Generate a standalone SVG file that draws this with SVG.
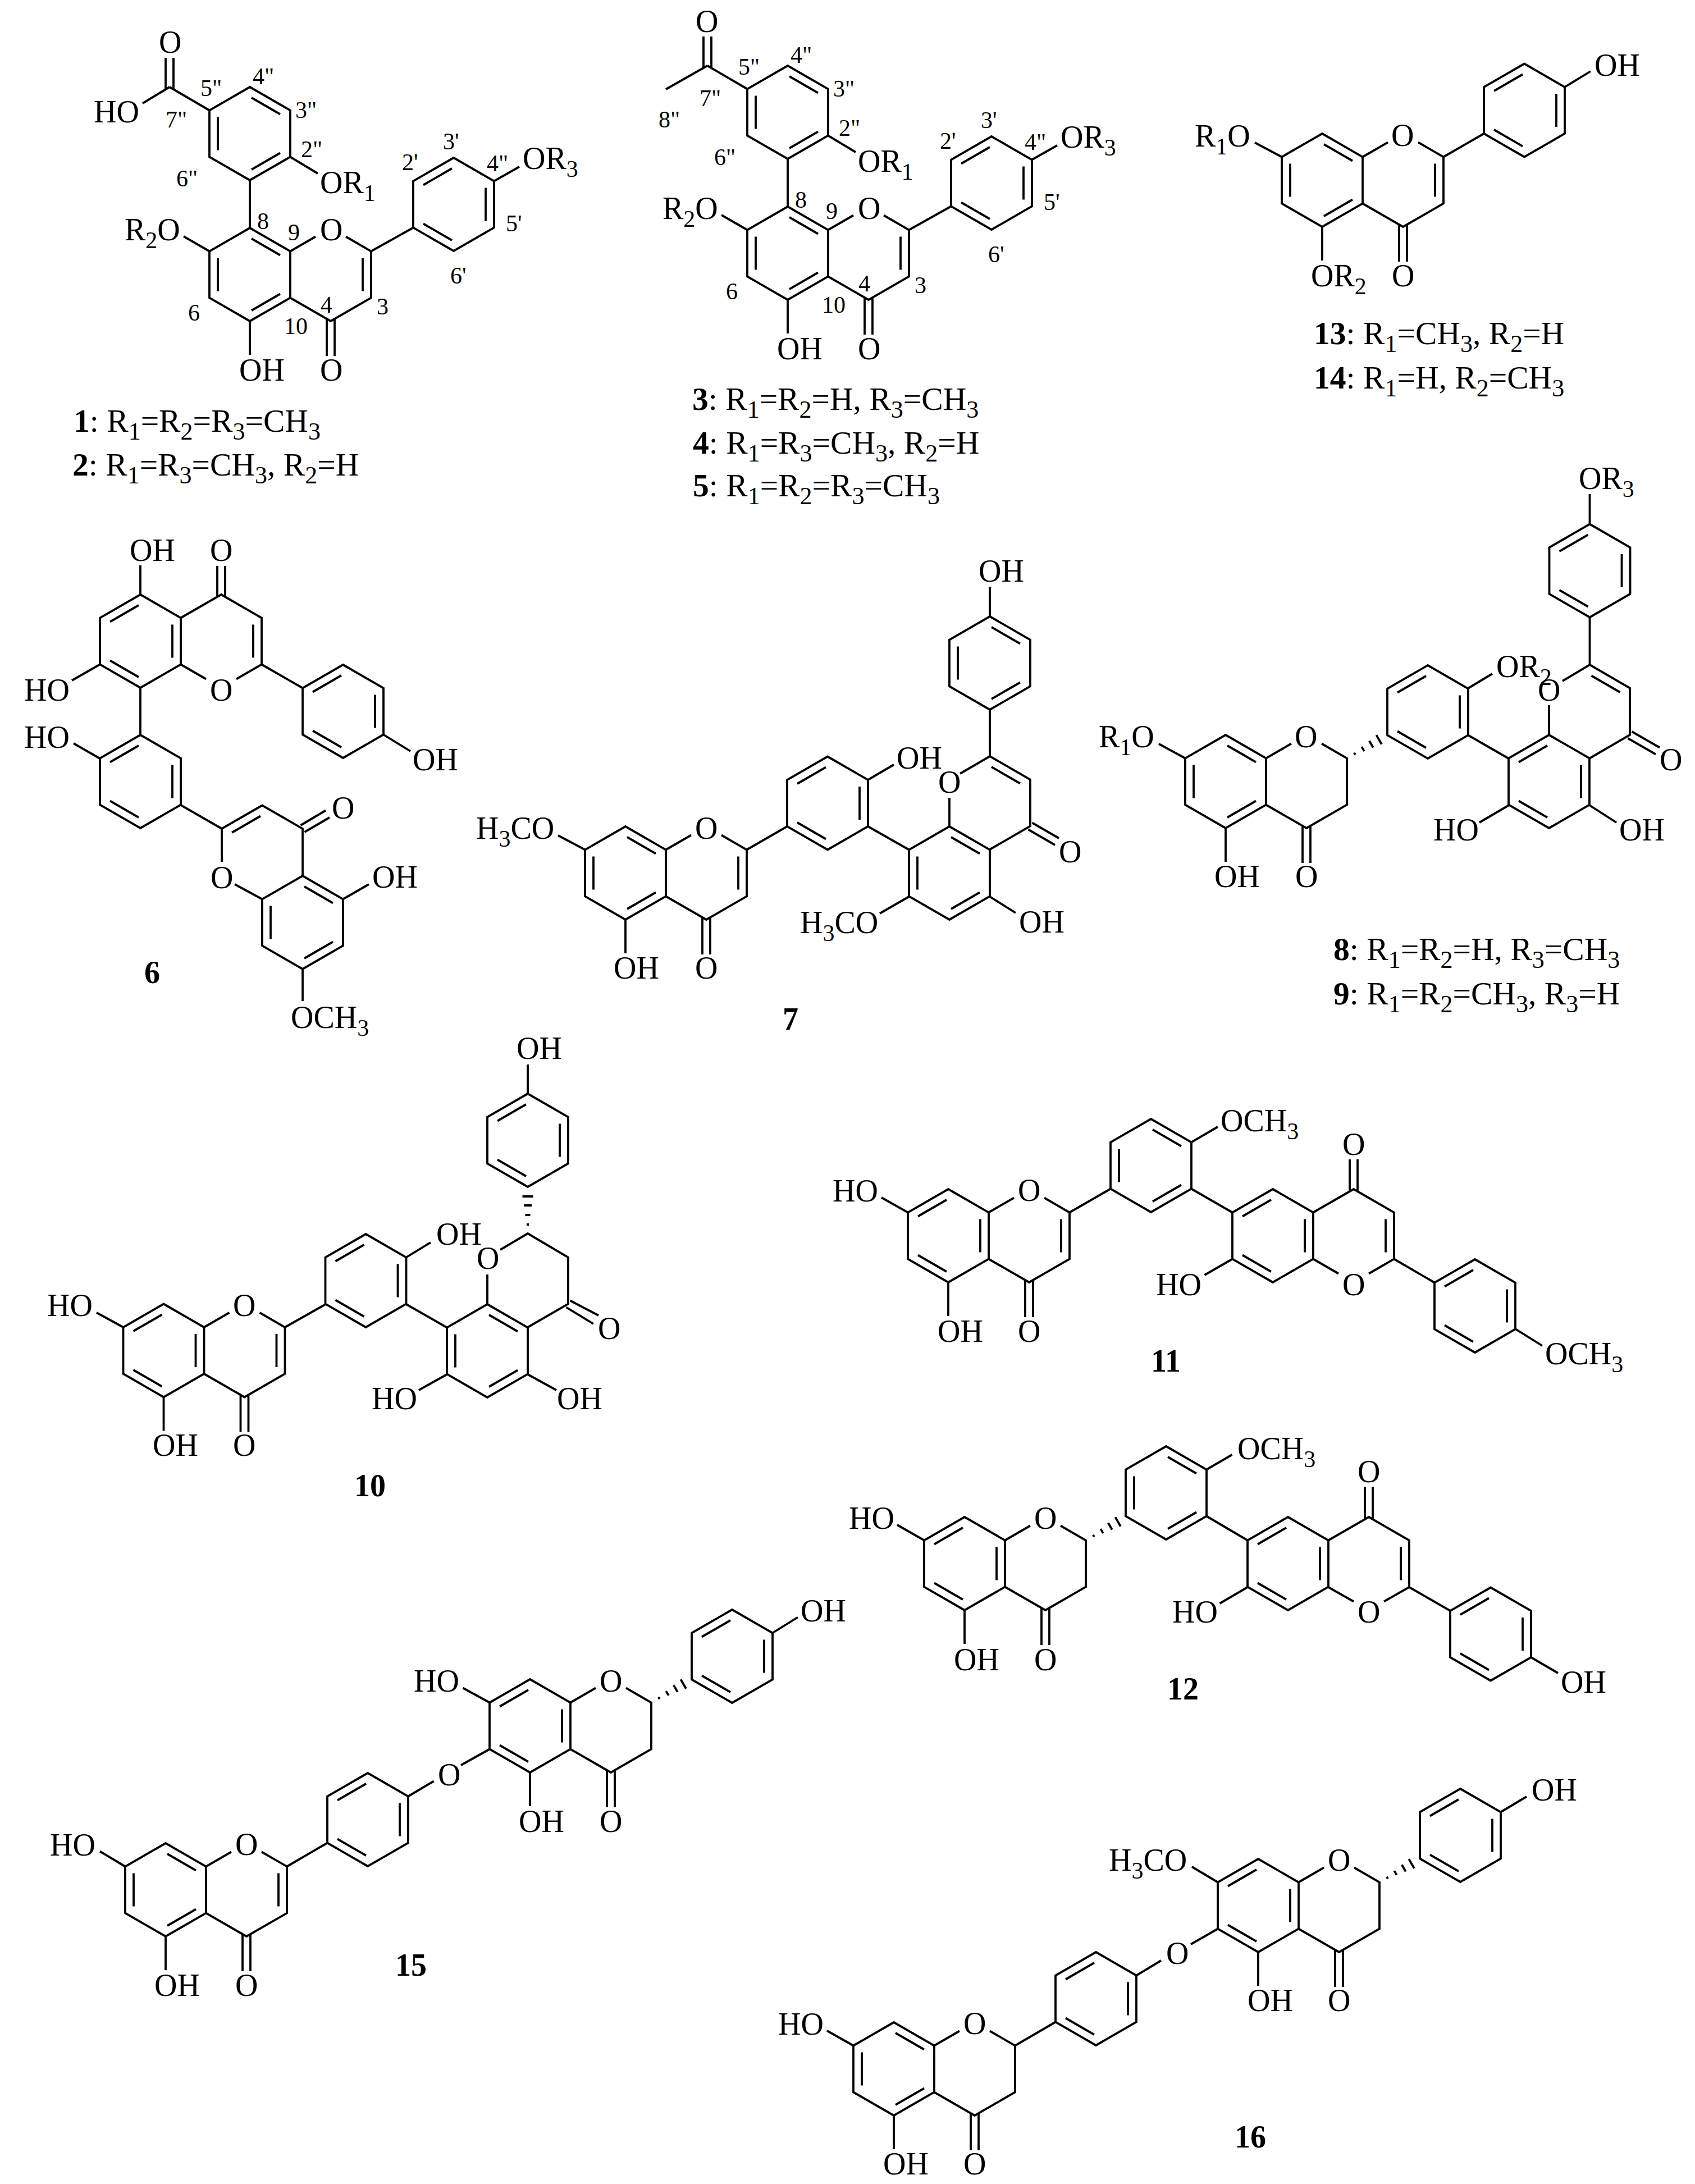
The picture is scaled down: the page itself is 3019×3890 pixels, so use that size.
<svg xmlns="http://www.w3.org/2000/svg" width="3019" height="3890" viewBox="0 0 3019 3890">
<style>
path{fill:none;stroke:#000;stroke-width:3.8;stroke-linejoin:miter;stroke-linecap:butt}
text{font-family:"Liberation Serif","Times New Roman",serif;fill:#000;white-space:pre}
.t{font-size:56px}.s{font-size:42px}.n{font-size:42px}.b{font-weight:bold}
.c{font-size:57.6px}.c .s{font-size:44px}
</style>
<defs>
<path id="kA" d="M0-83L72-41.5V41.5L0 83L-72 41.5V-41.5ZM3-64L54-34.5M3 64L54 34.5M-57-29.5V29.5"/>
<path id="kB" d="M0-83L72-41.5V41.5L0 83L-72 41.5V-41.5ZM-3-64L-54-34.5M57-29.5V29.5M-3 64L-54 34.5"/>
<path id="cO" d="M-72-41.5L-27-67.5M27-67.5L72-41.5V41.5L0 83L-72 41.5M-7 80V145M7 80V145M-144 83V143"/>
<path id="cOd" d="M-72-41.5L-27-67.5M27-67.5L72-41.5V41.5L0 83L-72 41.5M-7 80V145M7 80V145M-144 83V143M57-29.5V29.5"/>
<path id="hash" d="M16-2V2M33-4.5V4.5M50-7V7M66-9.5V9.5"/>
<g id="core13">
<use href="#kA" x="445" y="489"/><use href="#cOd" x="589" y="489"/><use href="#kA" x="445" y="238"/><use href="#kB" x="808" y="364"/>
<path d="M661 447.5L736 405.5M880 322.5L925 297M445 406V321M517 279.5L566 309M373 447.5L327 421M373 196.5L302 155M295 159V103M309 159V103"/>
</g>
</defs>
<rect width="3019" height="3890" fill="#fff"/>

<g id="compound-1">
<use href="#core13"/>
<path d="M302 155L254 184"/>
<text class="t" x="283" y="94">O</text><text class="t" x="167" y="218">HO</text>
<text class="t" x="570" y="344">OR<tspan class="s" dy="14">1</tspan></text>
<text class="t" x="222" y="428">R<tspan class="s" dy="14">2</tspan><tspan dy="-14">O</tspan></text>
<text class="t" x="570" y="428">O</text><text class="t" x="931" y="301">OR<tspan class="s" dy="14">3</tspan></text>
<text class="t" x="426" y="678">OH</text><text class="t" x="570" y="678">O</text>
<text class="n" x="450" y="150">4"</text><text class="n" x="357" y="171">5"</text><text class="n" x="526" y="210">3"</text><text class="n" x="295" y="227">7"</text><text class="n" x="536" y="280">2"</text><text class="n" x="314" y="332">6"</text><text class="n" x="458" y="408">8</text><text class="n" x="513" y="428">9</text><text class="n" x="571" y="557">4</text><text class="n" x="671" y="560">3</text><text class="n" x="335" y="571">6</text><text class="n" x="506" y="595">10</text><text class="n" x="716" y="303">2'</text><text class="n" x="789" y="266">3'</text><text class="n" x="867" y="305">4"</text><text class="n" x="901" y="412">5'</text><text class="n" x="802" y="505">6'</text>
<text class="c" x="131" y="769"><tspan class="b">1</tspan>: R<tspan class="s" dy="14">1</tspan><tspan dy="-14">=R</tspan><tspan class="s" dy="14">2</tspan><tspan dy="-14">=R</tspan><tspan class="s" dy="14">3</tspan><tspan dy="-14">=CH</tspan><tspan class="s" dy="14">3</tspan></text>
<text class="c" x="129" y="847"><tspan class="b">2</tspan>: R<tspan class="s" dy="14">1</tspan><tspan dy="-14">=R</tspan><tspan class="s" dy="14">3</tspan><tspan dy="-14">=CH</tspan><tspan class="s" dy="14">3</tspan><tspan dy="-14">, R</tspan><tspan class="s" dy="14">2</tspan><tspan dy="-14">=H</tspan></text>
</g>

<g id="compound-3">
<use href="#core13" x="958" y="-38"/>
<path d="M1260 117L1186 159"/>
<text class="t" x="1239" y="57">O</text>
<text class="t" x="1528" y="306">OR<tspan class="s" dy="14">1</tspan></text>
<text class="t" x="1180" y="390">R<tspan class="s" dy="14">2</tspan><tspan dy="-14">O</tspan></text>
<text class="t" x="1528" y="390">O</text><text class="t" x="1889" y="263">OR<tspan class="s" dy="14">3</tspan></text>
<text class="t" x="1384" y="640">OH</text><text class="t" x="1528" y="640">O</text>
<text class="n" x="1408" y="112">4"</text><text class="n" x="1315" y="133">5"</text><text class="n" x="1484" y="172">3"</text><text class="n" x="1246" y="189">7"</text><text class="n" x="1173" y="227">8"</text><text class="n" x="1494" y="242">2"</text><text class="n" x="1272" y="294">6"</text><text class="n" x="1416" y="370">8</text><text class="n" x="1471" y="390">9</text><text class="n" x="1529" y="519">4</text><text class="n" x="1629" y="522">3</text><text class="n" x="1293" y="533">6</text><text class="n" x="1464" y="557">10</text><text class="n" x="1674" y="265">2'</text><text class="n" x="1747" y="228">3'</text><text class="n" x="1825" y="267">4"</text><text class="n" x="1859" y="374">5'</text><text class="n" x="1760" y="467">6'</text>
<text class="c" x="1233" y="730"><tspan class="b">3</tspan>: R<tspan class="s" dy="14">1</tspan><tspan dy="-14">=R</tspan><tspan class="s" dy="14">2</tspan><tspan dy="-14">=H, R</tspan><tspan class="s" dy="14">3</tspan><tspan dy="-14">=CH</tspan><tspan class="s" dy="14">3</tspan></text>
<text class="c" x="1234" y="808"><tspan class="b">4</tspan>: R<tspan class="s" dy="14">1</tspan><tspan dy="-14">=R</tspan><tspan class="s" dy="14">3</tspan><tspan dy="-14">=CH</tspan><tspan class="s" dy="14">3</tspan><tspan dy="-14">, R</tspan><tspan class="s" dy="14">2</tspan><tspan dy="-14">=H</tspan></text>
<text class="c" x="1234" y="884"><tspan class="b">5</tspan>: R<tspan class="s" dy="14">1</tspan><tspan dy="-14">=R</tspan><tspan class="s" dy="14">2</tspan><tspan dy="-14">=R</tspan><tspan class="s" dy="14">3</tspan><tspan dy="-14">=CH</tspan><tspan class="s" dy="14">3</tspan></text>
</g>

<g id="compound-13">
<use href="#kA" x="2355" y="321"/><use href="#cOd" x="2499" y="321"/><use href="#kB" x="2715" y="196.5"/>
<path d="M2571 279.5L2643 238M2787 155L2833 127M2283 279.5L2235 254"/>
<text class="t" x="2840" y="135">OH</text>
<text class="t" x="2128" y="261">R<tspan class="s" dy="14">1</tspan><tspan dy="-14">O</tspan></text>
<text class="t" x="2478" y="260">O</text>
<text class="t" x="2335" y="510">OR<tspan class="s" dy="14">2</tspan></text><text class="t" x="2479" y="510">O</text>
<text class="c" x="2340" y="613"><tspan class="b">13</tspan>: R<tspan class="s" dy="14">1</tspan><tspan dy="-14">=CH</tspan><tspan class="s" dy="14">3</tspan><tspan dy="-14">, R</tspan><tspan class="s" dy="14">2</tspan><tspan dy="-14">=H</tspan></text>
<text class="c" x="2340" y="692"><tspan class="b">14</tspan>: R<tspan class="s" dy="14">1</tspan><tspan dy="-14">=H, R</tspan><tspan class="s" dy="14">2</tspan><tspan dy="-14">=CH</tspan><tspan class="s" dy="14">3</tspan></text>
</g>

<g id="compound-6">
<use href="#kB" x="250" y="1142"/><use href="#kB" x="611" y="1267"/><use href="#kB" x="250" y="1392"/><use href="#kA" x="539" y="1643"/>
<path d="M322 1100.5L394 1059L466 1100.5V1183.5L421 1209.5M322 1183.5L367 1209.5M451 1112.5V1171.5M387 1063V1008M401 1063V1008M250 1059V1007M177 1184L128 1212M466 1183.5L539 1225.5M683 1308.5L731 1338M250 1225V1309M177 1350.5L131 1324M322 1434L395 1476L467 1434.5L539 1476V1560M464 1453.5L413 1483M535.5 1470L580 1443.5M542.5 1482L587 1456M395 1476V1535M418 1575L467 1601.5M611 1601.5L657 1575M539 1726V1783"/>
<text class="t" x="231" y="999">OH</text><text class="t" x="374" y="999">O</text><text class="t" x="43" y="1248">HO</text><text class="t" x="374" y="1248">O</text><text class="t" x="735" y="1372">OH</text><text class="t" x="43" y="1332">HO</text><text class="t" x="591" y="1458">O</text><text class="t" x="375" y="1582">O</text><text class="t" x="663" y="1581">OH</text>
<text class="t" x="518" y="1831">OCH<tspan class="s" dy="14">3</tspan></text>
<text class="t b" x="257" y="1751">6</text>
</g>

<g id="compound-7">
<use href="#kA" x="1114" y="1555"/><use href="#cOd" x="1258" y="1555"/><use href="#kB" x="1474" y="1430.5"/><use href="#kA" x="1691" y="1555"/><use href="#kA" x="1763" y="1181"/>
<path d="M1042 1513.5L994 1488M1330 1513.5L1402 1472M1546 1389L1592 1362M1546 1472L1619 1513.5M1691 1421V1472M1710 1378L1763 1347L1835 1388.5V1471.5L1763 1513M1766 1366L1817 1395.5M1838.5 1465.5L1886 1493M1831.5 1477.5L1879 1505M1763 1597L1809 1626M1619 1597L1567 1627M1763 1264V1347M1763 1098V1045"/>
<text class="t" x="848" y="1494">H<tspan class="s" dy="14">3</tspan><tspan dy="-14">CO</tspan></text>
<text class="t" x="1238" y="1494">O</text><text class="t" x="1093" y="1743">OH</text><text class="t" x="1238" y="1743">O</text><text class="t" x="1597" y="1369">OH</text><text class="t" x="1671" y="1412">O</text><text class="t" x="1886" y="1536">O</text><text class="t" x="1815" y="1661">OH</text>
<text class="t" x="1425" y="1662">H<tspan class="s" dy="14">3</tspan><tspan dy="-14">CO</tspan></text>
<text class="t" x="1743" y="1036">OH</text><text class="t b" x="1394" y="1834">7</text>
</g>

<g id="compound-8">
<use href="#kA" x="2183" y="1392"/><use href="#cO" x="2327" y="1392"/><use href="#kB" x="2543" y="1268"/><use href="#kB" x="2759" y="1392"/><use href="#kB" x="2831.5" y="1016.5"/>
<use href="#hash" transform="translate(2399 1350.5) rotate(-30)"/>
<path d="M2111 1350.5L2064 1325M2614 1226.5L2658 1200M2615 1309.5L2687 1351M2759 1256V1309M2783 1213L2831.5 1184L2903 1225.5V1309L2831.5 1350.5M2834.5 1203.5L2885.5 1233M2906.5 1303L2956 1331.5M2899.5 1315L2949 1343.5M2831.5 1434.5L2879 1465M2687 1434.5L2635 1465M2831.5 1100V1184M2831.5 933.5V880"/>
<text class="t" x="1957" y="1331">R<tspan class="s" dy="14">1</tspan><tspan dy="-14">O</tspan></text>
<text class="t" x="2306" y="1331">O</text><text class="t" x="2163" y="1580">OH</text><text class="t" x="2307" y="1580">O</text>
<text class="t" x="2665" y="1206">OR<tspan class="s" dy="14">2</tspan></text>
<text class="t" x="2739" y="1248">O</text><text class="t" x="2956" y="1372">O</text><text class="t" x="2884" y="1497">OH</text><text class="t" x="2553" y="1497">HO</text>
<text class="t" x="2812" y="871">OR<tspan class="s" dy="14">3</tspan></text>
<text class="c" x="2375" y="1710"><tspan class="b">8</tspan>: R<tspan class="s" dy="14">1</tspan><tspan dy="-14">=R</tspan><tspan class="s" dy="14">2</tspan><tspan dy="-14">=H, R</tspan><tspan class="s" dy="14">3</tspan><tspan dy="-14">=CH</tspan><tspan class="s" dy="14">3</tspan></text>
<text class="c" x="2375" y="1789"><tspan class="b">9</tspan>: R<tspan class="s" dy="14">1</tspan><tspan dy="-14">=R</tspan><tspan class="s" dy="14">2</tspan><tspan dy="-14">=CH</tspan><tspan class="s" dy="14">3</tspan><tspan dy="-14">, R</tspan><tspan class="s" dy="14">3</tspan><tspan dy="-14">=H</tspan></text>
</g>

<g id="compound-10">
<use href="#kB" x="291.5" y="2405.5"/><use href="#cOd" x="435.5" y="2405.5"/><use href="#kB" x="651.5" y="2281"/><use href="#kA" x="868" y="2406"/><use href="#kB" x="940" y="2031"/>
<use href="#hash" transform="translate(940 2197) rotate(-90)"/>
<path d="M219.5 2364L172 2338M507.5 2364L580 2323M723.5 2239.5L767 2213M723.5 2323L796 2364.5M868 2270V2323M891 2226L940 2197L1012 2239.5V2322.5L940 2364M1015.5 2316.5L1066 2343M1008.5 2328.5L1057 2358M940 2448L991 2476M796 2448L746 2476M940 1948V1896"/>
<text class="t" x="84" y="2344">HO</text><text class="t" x="415" y="2344">O</text><text class="t" x="272" y="2593">OH</text><text class="t" x="415" y="2593">O</text><text class="t" x="777" y="2217">OH</text><text class="t" x="849" y="2260">O</text><text class="t" x="1065" y="2385">O</text><text class="t" x="992" y="2510">OH</text><text class="t" x="662" y="2510">HO</text><text class="t" x="920" y="1886">OH</text>
<text class="t b" x="631" y="2665">10</text>
</g>

<g id="compound-11">
<use href="#kB" x="1689" y="2201"/><use href="#cOd" x="1833" y="2201"/><use href="#kA" x="2050" y="2076"/><use href="#kB" x="2267" y="2201"/><use href="#kB" x="2627" y="2326"/>
<path d="M1617 2159.5L1570 2133M1905 2159.5L1978 2117.5M2122 2034.5L2169 2007M2122 2117.5L2195 2159.5M2339 2159.5L2411 2118L2483 2159.5V2242.5L2438 2268.5M2339 2242.5L2384 2268.5M2468 2171.5V2230.5M2404 2122V2065M2418 2122V2065M2195 2242.5L2145.5 2271M2483 2242.5L2555 2284.5M2699 2367L2747 2397"/>
<text class="t" x="1483" y="2140">HO</text><text class="t" x="1813" y="2139">O</text><text class="t" x="1670" y="2390">OH</text><text class="t" x="1813" y="2390">O</text>
<text class="t" x="2174" y="2015">OCH<tspan class="s" dy="14">3</tspan></text>
<text class="t" x="2391" y="2057">O</text><text class="t" x="2391" y="2307">O</text><text class="t" x="2059" y="2307">HO</text>
<text class="t" x="2752" y="2430">OCH<tspan class="s" dy="14">3</tspan></text>
<text class="t b" x="2050" y="2443">11</text>
</g>

<g id="compound-12">
<use href="#kB" x="1718" y="2785"/><use href="#cO" x="1862" y="2785"/><use href="#kA" x="2077" y="2659"/><use href="#kB" x="2294" y="2785"/><use href="#kB" x="2655" y="2910.5"/>
<use href="#hash" transform="translate(1934 2743.5) rotate(-30)"/>
<path d="M1646 2743.5L1598 2716M2149 2617.5L2194.5 2591M2149 2700.5L2222 2743.5M2366 2743.5L2438 2702L2510 2743.5V2827L2465 2852.5M2366 2827L2411 2852.5M2495 2755.5V2814.5M2431 2706V2648M2445 2706V2648M2222 2827L2172.5 2856M2510 2827L2583 2869M2727 2952L2775 2980"/>
<text class="t" x="1512" y="2723">HO</text><text class="t" x="1842" y="2723">O</text><text class="t" x="1699" y="2975">OH</text><text class="t" x="1842" y="2975">O</text>
<text class="t" x="2204" y="2599">OCH<tspan class="s" dy="14">3</tspan></text>
<text class="t" x="2418" y="2640">O</text><text class="t" x="2418" y="2890">O</text><text class="t" x="2088" y="2890">HO</text><text class="t" x="2780" y="3015">OH</text>
<text class="t b" x="2079" y="3027">12</text>
</g>

<g id="compound-15">
<use href="#kA" x="295" y="3366"/><use href="#cOd" x="439" y="3366"/><use href="#kB" x="655" y="3241"/><use href="#kB" x="944" y="3074"/><use href="#cO" x="1088" y="3074"/><use href="#kB" x="1304" y="2950"/>
<use href="#hash" transform="translate(1160 3032.5) rotate(-30)"/>
<path d="M223 3324.5L178 3297.5M511 3324.5L583 3282.5M727 3199.5L772.5 3172.5M821 3144L872 3115.5M872 3032.5L824.5 3006.5M1376 2908.5L1421 2880.5"/>
<text class="t" x="89" y="3305">HO</text><text class="t" x="419" y="3304">O</text><text class="t" x="275" y="3555">OH</text><text class="t" x="419" y="3555">O</text><text class="t" x="780" y="3180">O</text><text class="t" x="737" y="3013">HO</text><text class="t" x="1068" y="3013">O</text><text class="t" x="924" y="3263">OH</text><text class="t" x="1068" y="3263">O</text><text class="t" x="1426" y="2888">OH</text>
<text class="t b" x="704" y="3519">15</text>
</g>

<g id="compound-16">
<use href="#kA" x="1592" y="3685"/><use href="#cO" x="1736" y="3685"/><use href="#kB" x="1952" y="3560"/><use href="#kB" x="2241" y="3394"/><use href="#cO" x="2385" y="3394"/><use href="#kB" x="2601" y="3269"/>
<use href="#hash" transform="translate(2457 3352.5) rotate(-30)"/>
<path d="M1520 3643.5L1473 3617M1808 3643.5L1880 3601.5M2024 3518.5L2068 3492M2121 3463L2169 3435.5M2169 3352.5L2123 3325M2673 3227.5L2719 3200"/>
<text class="t" x="1386" y="3624">HO</text><text class="t" x="1716" y="3623">O</text><text class="t" x="1573" y="3873">OH</text><text class="t" x="1716" y="3873">O</text><text class="t" x="2077" y="3498">O</text>
<text class="t" x="1975" y="3332">H<tspan class="s" dy="14">3</tspan><tspan dy="-14">CO</tspan></text>
<text class="t" x="2365" y="3332">O</text><text class="t" x="2222" y="3582">OH</text><text class="t" x="2365" y="3582">O</text><text class="t" x="2728" y="3207">OH</text>
<text class="t b" x="2199" y="3825">16</text>
</g>
</svg>
